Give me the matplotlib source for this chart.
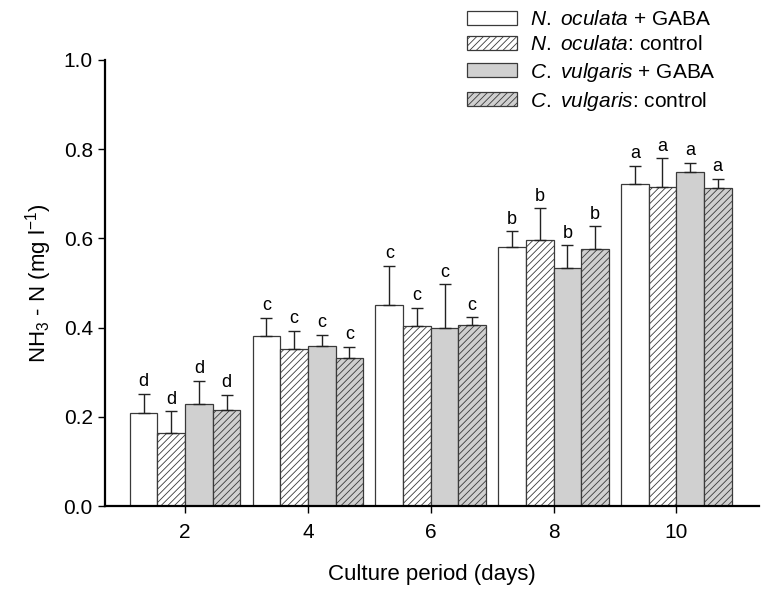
import matplotlib.pyplot as plt
import numpy as np

plt.rcParams['font.family'] = ['Liberation Sans', 'DejaVu Sans']
plt.rcParams['mathtext.fontset'] = 'custom'
plt.rcParams['mathtext.rm'] = 'Liberation Sans'
plt.rcParams['mathtext.it'] = 'Liberation Sans:italic'
plt.rcParams['hatch.linewidth'] = 0.6

# culture period (days)
days = [2, 4, 6, 8, 10]
# NH3-N means and upper error-bar tops
no_gaba = [0.209, 0.382, 0.450, 0.580, 0.722]
no_gaba_top = [0.252, 0.422, 0.538, 0.616, 0.763]
no_ctrl = [0.163, 0.352, 0.404, 0.597, 0.716]
no_ctrl_top = [0.213, 0.393, 0.445, 0.667, 0.779]
cv_gaba = [0.229, 0.358, 0.400, 0.533, 0.748]
cv_gaba_top = [0.281, 0.384, 0.497, 0.584, 0.769]
cv_ctrl = [0.216, 0.332, 0.407, 0.577, 0.712]
cv_ctrl_top = [0.249, 0.357, 0.423, 0.627, 0.733]
letters = ['d', 'c', 'c', 'b', 'a']

series = [
    ('$\\it{N.}$ $\\it{oculata}$ + GABA', no_gaba, no_gaba_top, 'white', None),
    ('$\\it{N.}$ $\\it{oculata}$: control', no_ctrl, no_ctrl_top, 'white', '/////'),
    ('$\\it{C.}$ $\\it{vulgaris}$ + GABA', cv_gaba, cv_gaba_top, '#d0d0d0', None),
    ('$\\it{C.}$ $\\it{vulgaris}$: control', cv_ctrl, cv_ctrl_top, '#d0d0d0', '/////'),
]

fig = plt.figure(figsize=(7.63, 5.97), dpi=100)
ax = fig.add_axes([0.138, 0.152, 0.857, 0.748])

w = 0.45
x = np.array(days, dtype=float)
for i, (lab, vals, tops, col, hatch) in enumerate(series):
    xi = x + (i - 1.5) * w
    vals = np.array(vals)
    err = np.array(tops) - vals
    ax.bar(xi, vals, w, color=col, edgecolor='#3a3a3a', linewidth=0.9,
           hatch=hatch, label=lab, zorder=2)
    ax.errorbar(xi, vals, yerr=[np.zeros_like(err), err], fmt='none',
                ecolor='#222222', elinewidth=1.0, capsize=4.5, capthick=1.0, zorder=3)
    for xx, t, l in zip(xi, tops, letters):
        ax.text(xx, t + 0.008, l, ha='center', va='bottom', fontsize=13)

ax.set_xlim(0.70, 11.35)
ax.set_ylim(0, 1.0)
ax.set_xticks(days)
ax.set_yticks([0.0, 0.2, 0.4, 0.6, 0.8, 1.0])
ax.set_yticklabels(['0.0', '0.2', '0.4', '0.6', '0.8', '1.0'])
ax.tick_params(labelsize=15, direction='out', length=5, width=1)
ax.tick_params(axis='x', pad=7)
ax.tick_params(axis='y', pad=4)
for s in ['top', 'right']:
    ax.spines[s].set_visible(False)
for s in ['left', 'bottom']:
    ax.spines[s].set_linewidth(1.6)

ax.set_xlabel('Culture period (days)', fontsize=16, labelpad=16)
ax.set_ylabel('NH$_3$ - N (mg l$^{-1}$)', fontsize=16, labelpad=7)

fig.legend(loc='upper left', bbox_to_anchor=(467 / 763, 1 - 10 / 597),
           frameon=False, fontsize=15, handlelength=2.4, handleheight=0.65,
           labelspacing=0.3, handletextpad=0.6, borderpad=0, borderaxespad=0)

fig.savefig('out.png', dpi=100)
